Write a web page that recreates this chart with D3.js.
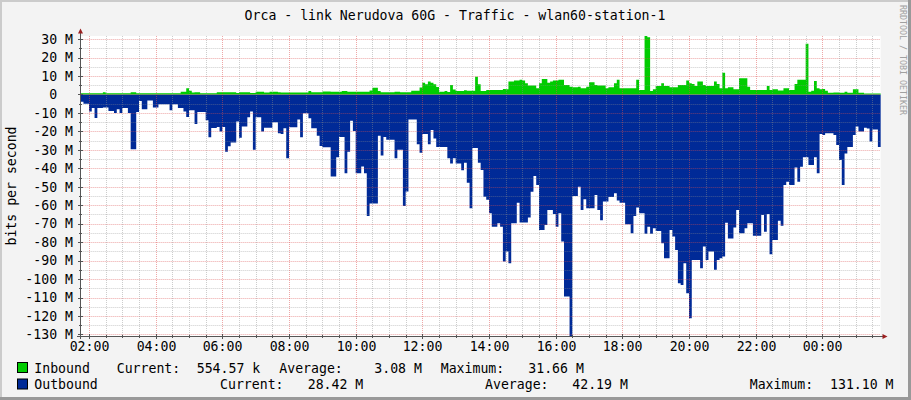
<!DOCTYPE html>
<html><head><meta charset="utf-8">
<script src="https://cdn.jsdelivr.net/npm/d3@7"></script>
<style>
html,body{margin:0;padding:0;background:#F3F3F3;}
svg{display:block;}
text{font-family:"DejaVu Sans Mono",monospace;}
</style>
</head><body>
<svg id="c" width="911" height="400"></svg>
<script>
// ---------------- data ----------------
const title = "Orca - link Nerudova 60G - Traffic - wlan60-station-1";
const yAxisTitle = "bits per second";
const watermark = "RRDTOOL / TOBI OETIKER";
const startUTC = Date.UTC(2024, 0, 1, 1, 45, 0); // first sample 01:45
const stepMinutes = 5;

// Inbound, Mbit/s, one value per 5 minutes
const inbound = [
  0.6,0.6,0.6,0.6,0.6,0.6,0.6,0.6,1.2,0.6, 0.6,0.6,0.6,0.6,0.6,0.6,0.6,0.6,1.2,1.2, 0.7,0.7,0.7,0.7,0.7,0.7,0.7,0.7,0.7,0.7, 0.7,0.7,0.7,0.7,0.7,0.7,
  1.5,1.5,3.3,2.0,1.0,1.2,1.2,0.6,0.6,0.6, 0.6,0.6,0.6,1.2,1.2,1.2,1.2,1.2,1.2,1.2, 0.8,1.2,1.2,1.2,1.2,0.8,0.8,1.5,1.5,1.5, 1.0,1.0,1.5,1.5,1.5,1.2,
  1.0,1.0,1.0,1.0,1.0,1.0,1.0,1.0,1.0,1.0, 1.9,1.2,1.2,1.2,1.2,1.6,1.6,1.6,1.4,1.4, 1.4,1.4,1.9,1.9,1.5,1.5,1.5,1.5,1.5,1.5, 1.5,1.5,2.2,3.6,3.6,1.9,
  1.2,1.2,1.2,1.2,1.2,1.5,1.5,1.2,1.2,1.2, 1.2,2.0,2.0,2.0,3.8,6.3,5.5,7.0,6.3,5.5, 4.0,1.5,1.5,1.9,1.3,5.1,2.7,1.9,1.9,1.9, 2.3,2.0,2.0,2.0,9.6,5.5,
  1.9,1.9,2.4,2.4,2.4,2.4,2.4,2.4,3.0,2.8, 7.0,7.0,7.5,7.5,7.9,7.5,6.1,4.8,4.8,4.8, 3.3,6.1,8.4,8.4,6.4,7.0,7.5,7.5,7.9,7.9, 5.1,5.1,4.2,3.9,3.9,4.2,
  3.3,3.3,4.2,6.6,6.6,5.1,4.9,4.9,4.9,3.3, 3.9,3.9,6.1,7.9,3.3,3.3,3.3,3.3,3.3,3.3, 7.9,2.4,2.4,31.66,31.0,1.9,2.8,4.6,4.6,6.1, 4.6,4.6,3.9,3.9,3.9,5.1,
  5.1,5.1,7.5,6.1,5.7,4.6,7.0,7.0,5.1,4.6, 4.6,4.6,7.0,5.7,3.3,11.8,3.3,3.9,3.9,2.8, 2.8,8.8,8.8,8.8,4.2,2.4,2.4,2.4,2.4,2.4, 2.4,4.6,2.4,2.8,2.8,2.2,
  2.2,3.3,3.3,2.4,2.4,5.7,7.9,7.9,7.9,27.4, 1.4,2.0,7.3,3.3,2.8,3.0,2.0,0.9,0.9,1.1, 1.1,0.9,0.9,1.4,0.9,0.9,2.8,2.8,0.9,0.9, 0.55,0.55,0.55,0.55,0.55,0.55457
];

// Outbound, Mbit/s (plotted below zero), one value per 5 minutes
const outbound = [
  4,5,5,9.3,7.4,12.7,7.4,7.4,7,7, 9,9,10,8,10,7.4,7.4,10,29.7,29.7, 9.5,3.5,8,8,3.3,3.3,7,7,5.3,5.3, 5.3,5.3,8.5,5.3,5.3,7.4,
  7.4,9.3,12.2,8.5,8.5,16,9.5,9.5,9.5,14, 23.2,18.2,18.2,17.6,20,17.6,31,28,26,26, 14.7,23.5,17.3,17.3,12.3,9.3,30,12.3,12.3,20, 18,18,18,15,15,21,
  21.4,18.3,34.6,17.7,17.7,17.7,13.5,23.2,10.2,10.2, 12.9,18.3,18.3,22.4,27.9,28.6,28.6,28.6,44.5,44.5, 34,23,23,42.7,31,14.3,19.8,42.7,42.7,39, 42.7,65.8,59,59,59,22.4,
  33,23,24.5,24.5,24.5,34.6,30,30,60.4,52.6, 13.5,13.5,13.5,27,31.6,21.4,21.4,27,19.3,23.8, 28.4,28.4,28.4,28.4,34.6,37.4,34.6,37.4,37.4,41, 37,47.8,61.6,29,29,37,
  40.9,55.4,57,64.4,71.6,71.6,69.8,71.6,90.5,85, 91.4,69.8,69.8,58.7,69.3,69.3,69.3,66.7,52.7,44.2, 49,73.4,73.4,70.7,62.6,62.6,64.8,71.6,64.4,79.7, 109.5,109.5,131.1,55,55,50,
  62.6,56.8,61.7,61.7,61.7,54.5,62.6,68.2,58,58, 55.5,55.5,53.5,57.5,58.7,58.7,70.3,70.3,75.2,65.8, 61.2,64.4,64.4,75.5,71.6,75.5,72.5,74,74,80.6, 88.7,88.7,73.4,77,84.2,102.3,
  103.2,91.4,107.7,121.2,89.6,89.6,89.6,94.2,82.4,89.6, 85,85,95,89.6,88.7,87.8,69.5,78,78,72, 62.6,75.2,75.2,72.5,69.8,69.8,76.5,76.5,76.5,65.3, 74.3,64.8,86.5,78.8,78.8,68.4,
  71.1,49,47.3,49,49,39.5,47.3,39.2,34,34, 38.2,38.2,34,42.7,21.4,22,21,21,21,22, 27.4,35.5,49,32,28.4,28.4,21.9,17.4,20,20, 18,18.5,25.5,19,19,28.42
];

const yTicks = [30,20,10,0,-10,-20,-30,-40,-50,-60,-70,-80,-90,-100,-110,-120,-130];
const yMin = -131.1, yMax = 31.66;

const seriesNames   = ["Inbound", "Outbound"];
const seriesColors  = ["#00CC00", "#002A97"];
const curLabels     = ["554.57 k", "28.42 M"];
const avgLabels     = ["3.08 M", "42.19 M"];
const maxLabels     = ["31.66 M", "131.10 M"];

// ---------------- layout ----------------
const W = 911, H = 400;
const X0 = 80.67, X1 = 880.67, YT = 36, YB = 336.5;
const FS = 13.2;

const svg = d3.select("#c");
const t0 = new Date(startUTC);
const t1 = new Date(startUTC + 24 * 60 * 60000);
const x = d3.scaleUtc().domain([t0, t1]).range([X0, X1]);
const y = d3.scaleLinear().domain([yMin, yMax]).range([YB, YT]);

// background + frame
svg.append("rect").attr("width", W).attr("height", H).attr("fill", "#F3F3F3");
svg.append("rect").attr("x",0).attr("y",0).attr("width",W).attr("height",2).attr("fill","#CBCBCB");
svg.append("rect").attr("x",0).attr("y",0).attr("width",2).attr("height",H).attr("fill","#CBCBCB");
svg.append("rect").attr("x",0).attr("y",H-3).attr("width",W).attr("height",3).attr("fill","#999999");
svg.append("rect").attr("x",W-3).attr("y",0).attr("width",3).attr("height",H).attr("fill","#999999");

// canvas
svg.append("rect").attr("x", X0).attr("y", YT).attr("width", X1 - X0).attr("height", YB - YT).attr("fill", "#FFFFFF");

// series
function pts(arr, sign) {
  const p = arr.map((v, i) => ({t: new Date(startUTC + i * stepMinutes * 60000), v: sign * v}));
  p.push({t: new Date(startUTC + arr.length * stepMinutes * 60000), v: sign * arr[arr.length - 1]});
  return p;
}
const area = d3.area().curve(d3.curveStepAfter)
  .x(d => Math.min(x(d.t), X1)).y0(y(0)).y1(d => y(d.v));
svg.append("path").datum(pts(outbound, -1)).attr("d", area).attr("fill", seriesColors[1]);
svg.append("path").datum(pts(inbound, 1)).attr("d", area).attr("fill", seriesColors[0]);

// grid (drawn on top, semi transparent, dotted)
const g = svg.append("g");
const hv = d3.range(-130, 31, 5);
hv.forEach(v => {
  const yy = Math.round(y(v)) + 0.5;
  const major = v % 10 === 0;
  g.append("line").attr("x1", X0).attr("x2", X1).attr("y1", yy).attr("y2", yy)
    .attr("stroke", major ? "#DE5050" : "#8F8F8F").attr("stroke-opacity", major ? 0.5 : 0.45)
    .attr("stroke-dasharray", "1,1");
});
const minorTimes = d3.utcMinute.every(30).range(t0, t1);
minorTimes.forEach(t => {
  const xx = Math.round(x(t)) + 0.5;
  if (xx <= X0 + 1) return;
  const major = t.getUTCMinutes() === 0 && t.getUTCHours() % 2 === 0;
  g.append("line").attr("x1", xx).attr("x2", xx).attr("y1", YT).attr("y2", YB)
    .attr("stroke", major ? "#DE5050" : "#8F8F8F").attr("stroke-opacity", major ? 0.5 : 0.45)
    .attr("stroke-dasharray", "1,1");
});

// axes
const axisColor = "#555555";
svg.append("line").attr("x1", 80.5).attr("x2", 80.5).attr("y1", 339).attr("y2", 33)
  .attr("stroke", axisColor);
svg.append("line").attr("x1", 77).attr("x2", 884).attr("y1", 336.5).attr("y2", 336.5)
  .attr("stroke", axisColor);
svg.append("path").attr("d", "M78,33.5 L83,33.5 L80.5,28.5 Z").attr("fill", "#9B2020");
svg.append("path").attr("d", "M882.5,334 L882.5,339 L887.5,336.5 Z").attr("fill", "#9B2020");

// ticks on axes
hv.forEach(v => {
  const yy = Math.round(y(v)) + 0.5;
  const major = v % 10 === 0;
  svg.append("line").attr("x1", major ? 78 : 79).attr("x2", major ? 83 : 82)
    .attr("y1", yy).attr("y2", yy).attr("stroke", axisColor);
});
minorTimes.forEach(t => {
  const xx = Math.round(x(t)) + 0.5;
  if (xx <= X0 + 1) return;
  const major = t.getUTCMinutes() === 0 && t.getUTCHours() % 2 === 0;
  svg.append("line").attr("x1", xx).attr("x2", xx)
    .attr("y1", major ? 334 : 335).attr("y2", major ? 339 : 338).attr("stroke", axisColor);
});

// y labels
yTicks.forEach(v => {
  svg.append("text").attr("x", 73).attr("y", y(v) + 4.8).attr("text-anchor", "end")
    .attr("font-size", FS).attr("fill", "#000")
    .text(v === 0 ? "0\u00a0\u00a0" : v + " M");
});
// x labels
const fmt = d3.utcFormat("%H:%M");
d3.utcHour.every(2).range(t0, t1).forEach(t => {
  if (x(t) > X1 - 2) return;
  svg.append("text").attr("x", Math.round(x(t)) + 0.5).attr("y", 351).attr("text-anchor", "middle")
    .attr("font-size", FS).attr("fill", "#000").text(fmt(t));
});

// title
svg.append("text").attr("x", 455).attr("y", 19.5).attr("text-anchor", "middle")
  .attr("font-size", FS).attr("fill", "#000").text(title);
// y axis title
svg.append("text").attr("transform", "translate(16,186) rotate(-90)").attr("text-anchor", "middle")
  .attr("font-size", FS).attr("fill", "#000").text(yAxisTitle);
// watermark
svg.append("text").attr("transform", "translate(899.5,5) rotate(90)").attr("text-anchor", "start")
  .attr("font-size", 8.3).attr("fill", "#A0A0A0").text(watermark);

// legend
const legendLayout = [
  {sy: 362.5, by: 373, cur: 116.7, curV: 196.7, avg: 279.3, avgV: 374.3, max: 440.7, maxV: 528.3},
  {sy: 379, by: 389, cur: 220, curV: 307.7, avg: 485, avgV: 572.3, max: 749.7, maxV: 830}
];
seriesNames.forEach((name, i) => {
  const L = legendLayout[i];
  svg.append("rect").attr("x", 17.5).attr("y", L.sy).attr("width", 10).attr("height", 10)
    .attr("fill", seriesColors[i]).attr("stroke", "#000").attr("stroke-width", 1);
  const tx = (xx, s) => svg.append("text").attr("x", xx).attr("y", L.by)
    .attr("font-size", FS).attr("fill", "#000").text(s);
  tx(34.3, name);
  tx(L.cur, "Current:");
  tx(L.curV, curLabels[i]);
  tx(L.avg, "Average:");
  tx(L.avgV, avgLabels[i]);
  tx(L.max, "Maximum:");
  tx(L.maxV, maxLabels[i]);
});
</script>
</body></html>
